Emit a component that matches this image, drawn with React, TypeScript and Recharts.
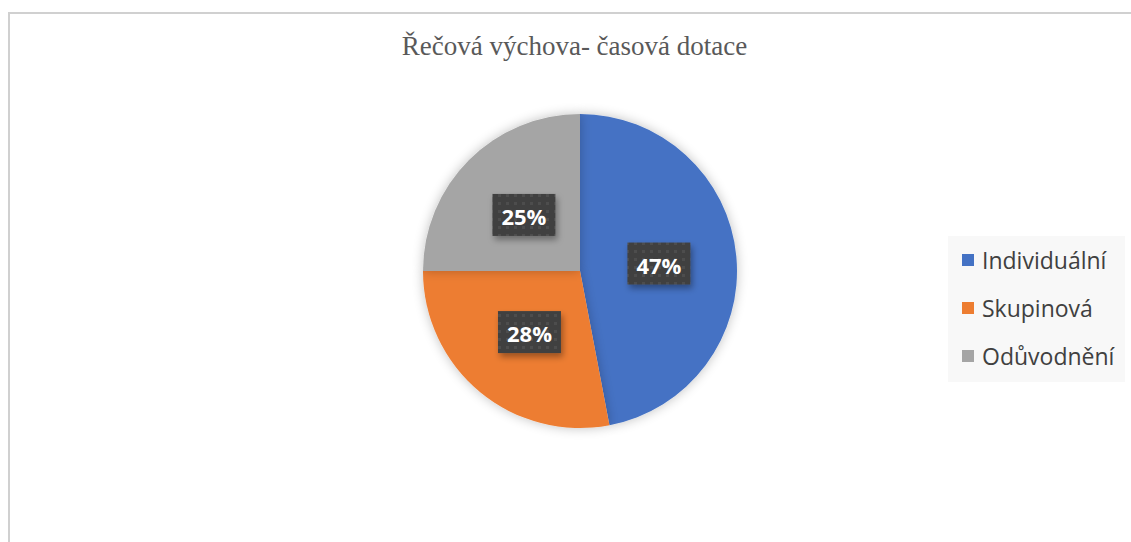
import React from "react";
import { PieChart, Pie, Cell, Legend } from "recharts";

const categories = ["Individuální", "Skupinová", "Odůvodnění"];
const values = [47, 28, 25];
const colors = ["#4472C4", "#ED7D31", "#A5A5A5"];
const title = "Řečová výchova- časová dotace";

const data = categories.map((name, i) => ({ name, value: values[i] }));

const RAD = Math.PI / 180;

const renderLabel = (props: any) => {
  const { cx, cy, midAngle, outerRadius, value, index } = props;
  const r = outerRadius * 0.505;
  const x = cx + r * Math.cos(-midAngle * RAD);
  const y = cy + r * Math.sin(-midAngle * RAD);
  const w = 63;
  const h = 42;
  const pid = `dots-${index}`;
  return (
    <g>
      <defs>
        <pattern id={pid} width="8" height="8" patternUnits="userSpaceOnUse">
          <rect width="8" height="8" fill="#404040" />
          <rect x="2" y="2" width="3" height="3" fill="#4e4e4e" />
        </pattern>
        <filter id={`lsh-${index}`} x="-30%" y="-30%" width="160%" height="170%">
          <feDropShadow dx="2" dy="4" stdDeviation="3" floodColor="#000" floodOpacity="0.35" />
        </filter>
      </defs>
      <rect
        x={x - w / 2}
        y={y - h / 2}
        width={w}
        height={h}
        fill={`url(#${pid})`}
        filter={`url(#lsh-${index})`}
      />
      <text
        x={x}
        y={y + 1}
        textAnchor="middle"
        dominantBaseline="central"
        fill="#ffffff"
        fontFamily="'Open Sans', 'Noto Sans', sans-serif"
        fontWeight="bold"
        fontSize={22}
      >
        {`${value}%`}
      </text>
    </g>
  );
};

const renderLegend = () => (
  <div
    style={{
      background: "#f8f8f8",
      width: 177,
      height: 146,
      boxSizing: "border-box",
      paddingLeft: 14,
      paddingTop: 0,
      fontFamily: "'Open Sans', 'Noto Sans', sans-serif",
    }}
  >
    {categories.map((c, i) => (
      <div
        key={c}
        style={{ display: "flex", alignItems: "center", height: 48, color: "#404040", fontSize: 23 }}
      >
        <span
          style={{ display: "inline-block", width: 12, height: 12, background: colors[i], marginRight: 8, flexShrink: 0 }}
        />
        <span style={{ whiteSpace: "nowrap" }}>{c}</span>
      </div>
    ))}
  </div>
);

export default function App() {
  return (
    <div style={{ position: "absolute", left: 0, top: 0, width: 1131, height: 542, background: "#fff", overflow: "hidden" }}>
      <div
        style={{
          position: "absolute",
          left: 8,
          top: 12,
          width: 1200,
          height: 600,
          borderLeft: "2px solid #d0d0d0",
          borderTop: "2px solid #d0d0d0",
        }}
      />
      <div
        style={{
          position: "absolute",
          left: 0,
          top: 31,
          width: 1149,
          textAlign: "center",
          fontFamily: "'Liberation Serif', 'Times New Roman', serif",
          fontSize: 27,
          lineHeight: "31px",
          color: "#595959",
          whiteSpace: "nowrap",
        }}
      >
        {title}
      </div>
      <div style={{ position: "absolute", left: 0, top: 0 }}>
        <PieChart width={1131} height={542} margin={{ top: 0, right: 0, bottom: 0, left: 0 }}>
          <defs>
            <filter id="pieShadow" x="-20%" y="-20%" width="140%" height="140%">
              <feGaussianBlur in="SourceAlpha" stdDeviation="6" />
              <feOffset dx="0" dy="0" result="b" />
              <feComponentTransfer>
                <feFuncA type="linear" slope="0.25" />
              </feComponentTransfer>
              <feMerge>
                <feMergeNode />
                <feMergeNode in="SourceGraphic" />
              </feMerge>
            </filter>
          </defs>
          <Pie
            data={data}
            dataKey="value"
            nameKey="name"
            cx={580}
            cy={271}
            outerRadius={157}
            startAngle={90}
            endAngle={-270}
            stroke="none"
            label={renderLabel}
            labelLine={false}
            isAnimationActive={false}
            style={{ filter: "url(#pieShadow)" }}
          >
            {data.map((d, i) => (
              <Cell key={d.name} fill={colors[i]} />
            ))}
          </Pie>
          <Legend
            content={renderLegend}
            layout="vertical"
            align="right"
            verticalAlign="top"
            wrapperStyle={{ position: "absolute", left: 948, top: 236, width: 177 }}
          />
        </PieChart>
      </div>
    </div>
  );
}
